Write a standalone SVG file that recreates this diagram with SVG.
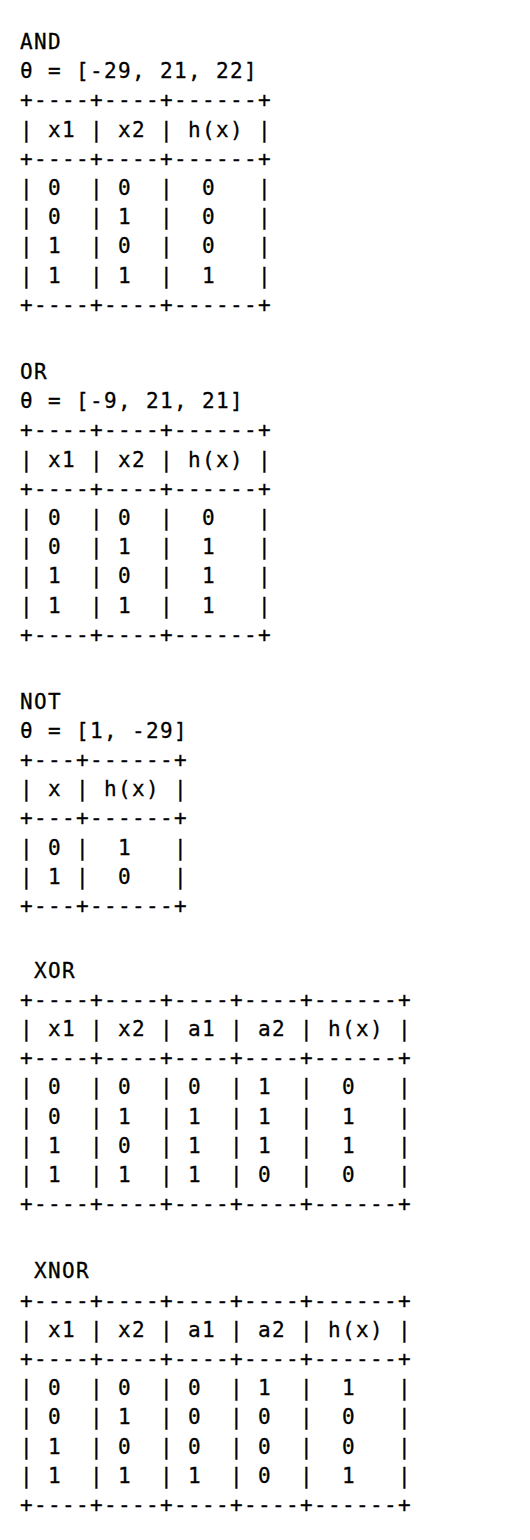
<svg xmlns="http://www.w3.org/2000/svg" width="530" height="1540" viewBox="0 0 530 1540" xml:space="preserve">
<style>
  text { font-family: "DejaVu Sans Mono", "Liberation Mono", monospace; font-size: 21px; letter-spacing: 1.36px; fill: #000; stroke: #000; stroke-width: 0.3px; white-space: pre; }
</style>
<rect width="530" height="1540" fill="#fff"/>
<g id="and">
<text x="20" y="49">AND</text>
<text x="20" y="78.2">θ = [-29, 21, 22]</text>
<text x="20" y="107.4">+----+----+------+</text>
<text x="20" y="136.6">| x1 | x2 | h(x) |</text>
<text x="20" y="165.8">+----+----+------+</text>
<text x="20" y="195">| 0  | 0  |  0   |</text>
<text x="20" y="224.2">| 0  | 1  |  0   |</text>
<text x="20" y="253.4">| 1  | 0  |  0   |</text>
<text x="20" y="282.6">| 1  | 1  |  1   |</text>
<text x="20" y="311.8">+----+----+------+</text>
</g>
<g id="or">
<text x="20" y="379">OR</text>
<text x="20" y="408.2">θ = [-9, 21, 21]</text>
<text x="20" y="437.4">+----+----+------+</text>
<text x="20" y="466.6">| x1 | x2 | h(x) |</text>
<text x="20" y="495.8">+----+----+------+</text>
<text x="20" y="525">| 0  | 0  |  0   |</text>
<text x="20" y="554.2">| 0  | 1  |  1   |</text>
<text x="20" y="583.4">| 1  | 0  |  1   |</text>
<text x="20" y="612.6">| 1  | 1  |  1   |</text>
<text x="20" y="641.8">+----+----+------+</text>
</g>
<g id="not">
<text x="20" y="708.5">NOT</text>
<text x="20" y="737.7">θ = [1, -29]</text>
<text x="20" y="766.9">+---+------+</text>
<text x="20" y="796.1">| x | h(x) |</text>
<text x="20" y="825.3">+---+------+</text>
<text x="20" y="854.5">| 0 |  1   |</text>
<text x="20" y="883.7">| 1 |  0   |</text>
<text x="20" y="912.9">+---+------+</text>
</g>
<g id="xor">
<text x="20" y="977.5"> XOR</text>
<text x="20" y="1006.7">+----+----+----+----+------+</text>
<text x="20" y="1035.9">| x1 | x2 | a1 | a2 | h(x) |</text>
<text x="20" y="1065.1">+----+----+----+----+------+</text>
<text x="20" y="1094.3">| 0  | 0  | 0  | 1  |  0   |</text>
<text x="20" y="1123.5">| 0  | 1  | 1  | 1  |  1   |</text>
<text x="20" y="1152.7">| 1  | 0  | 1  | 1  |  1   |</text>
<text x="20" y="1181.9">| 1  | 1  | 1  | 0  |  0   |</text>
<text x="20" y="1211.1">+----+----+----+----+------+</text>
</g>
<g id="xnor">
<text x="20" y="1278.3"> XNOR</text>
<text x="20" y="1307.5">+----+----+----+----+------+</text>
<text x="20" y="1336.7">| x1 | x2 | a1 | a2 | h(x) |</text>
<text x="20" y="1365.9">+----+----+----+----+------+</text>
<text x="20" y="1395.1">| 0  | 0  | 0  | 1  |  1   |</text>
<text x="20" y="1424.3">| 0  | 1  | 0  | 0  |  0   |</text>
<text x="20" y="1453.5">| 1  | 0  | 0  | 0  |  0   |</text>
<text x="20" y="1482.7">| 1  | 1  | 1  | 0  |  1   |</text>
<text x="20" y="1511.9">+----+----+----+----+------+</text>
</g>
<g id="connectors"/>
</svg>
